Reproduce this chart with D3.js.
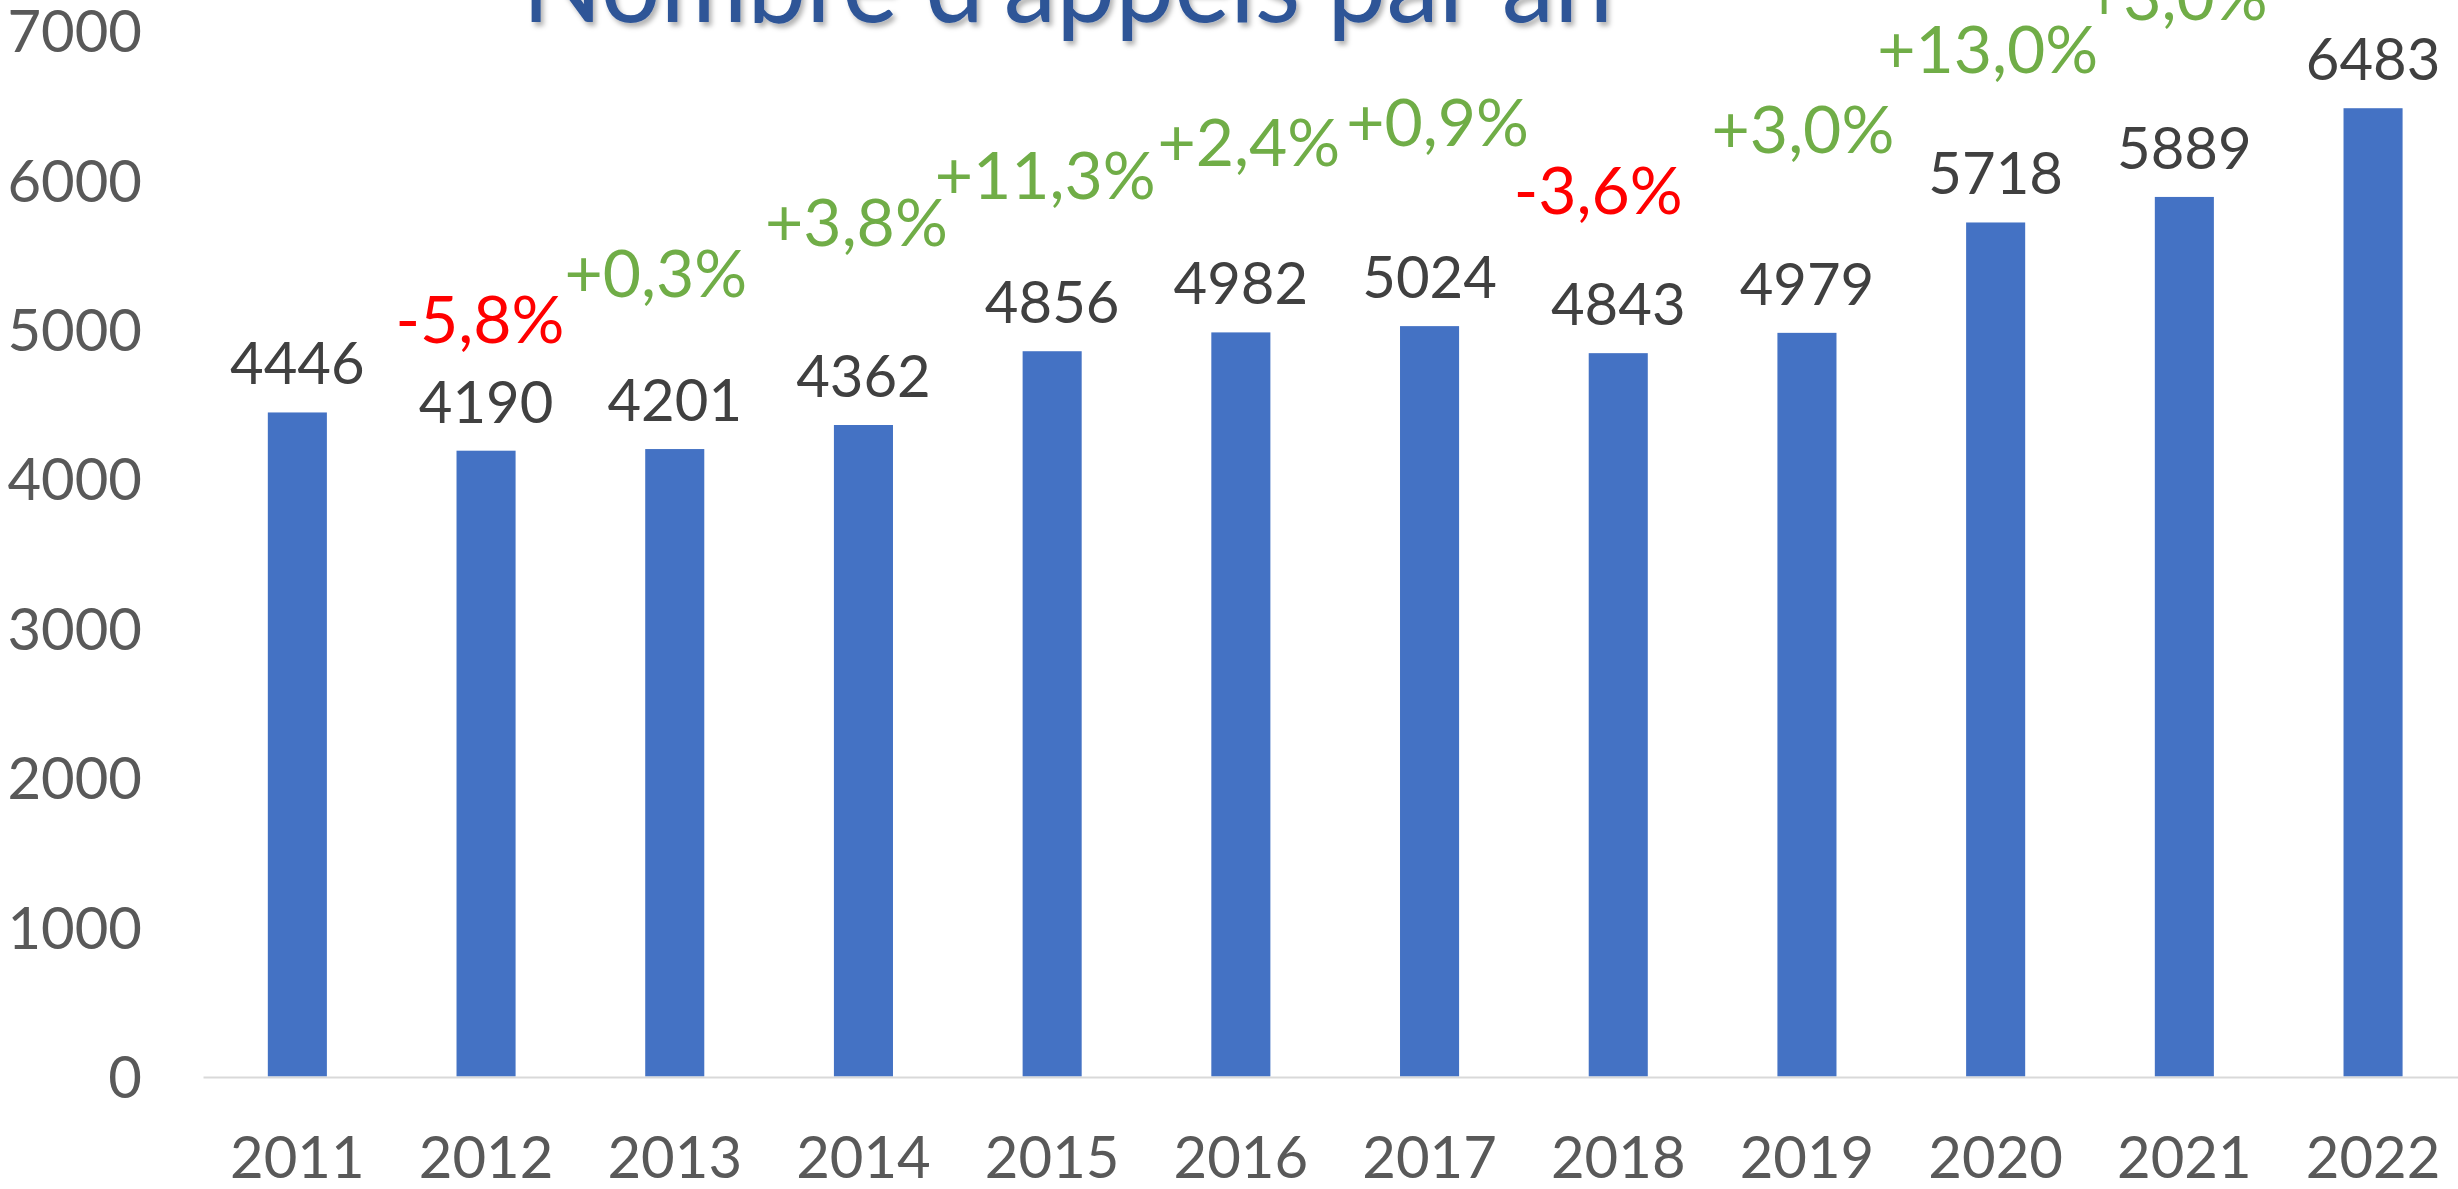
<!DOCTYPE html>
<html>
<head>
<meta charset="utf-8">
<script src="https://cdn.jsdelivr.net/npm/d3@7"></script>
<style>
  html, body { margin: 0; padding: 0; background: #ffffff; }
  svg { display: block; }
  text { font-family: Lato, "Open Sans", "Noto Sans", sans-serif; }
</style>
</head>
<body>
<svg id="chart" width="2458" height="1189"></svg>
<script>
// Annual call counts
const years = ["2011","2012","2013","2014","2015","2016","2017","2018","2019","2020","2021","2022"];
const calls = [4446, 4190, 4201, 4362, 4856, 4982, 5024, 4843, 4979, 5718, 5889, 6483];

// Year-over-year change annotations (year they refer to, text as printed)
const changeYears = ["2012","2013","2014","2015","2016","2017","2018","2019","2020","2021"];
const changeLabels = ["-5,8%","+0,3%","+3,8%","+11,3%","+2,4%","+0,9%","-3,6%","+3,0%","+13,0%","+3,0%"];

// Value-axis ticks
const yTicks = [0, 1000, 2000, 3000, 4000, 5000, 6000, 7000];

const title = "Nombre d'appels par an";

// Placement of the change annotations: baseline level in axis units, horizontal nudge in px
const changeLevel = [4911, 5219, 5560, 5875, 6096, 6230, 5774, 6183, 6719, 7074];
const changeNudge = [-6, -19, -7, -7, 8, 8, -20, -4, -8, -8];

const svg = d3.select("#chart");

const x = d3.scaleBand()
  .domain(years)
  .range([203, 203 + 12 * 188.7])
  .paddingInner(0.687)
  .paddingOuter(0.3435);

const y = d3.scaleLinear()
  .domain([0, 7000])
  .range([1076.5, 31]);

// Title with soft drop shadow
const defs = svg.append("defs");
const f = defs.append("filter").attr("id", "shadow")
  .attr("x", "-5%").attr("y", "-20%").attr("width", "110%").attr("height", "150%");
f.append("feDropShadow")
  .attr("dx", 3).attr("dy", 4).attr("stdDeviation", 2.5)
  .attr("flood-color", "#000000").attr("flood-opacity", 0.3);

svg.append("text")
  .attr("x", 1067.5)
  .attr("y", 22)
  .attr("text-anchor", "middle")
  .attr("font-size", 110)
  .attr("fill", "#2F5597")
  .attr("textLength", 1091)
  .attr("lengthAdjust", "spacingAndGlyphs")
  .attr("filter", "url(#shadow)")
  .text(title);

// Value axis labels
const yAxis = svg.append("g")
  .attr("transform", "translate(142,0)")
  .call(d3.axisLeft(y).tickValues(yTicks).tickSize(0).tickPadding(0).tickFormat(d3.format("d")));
yAxis.select(".domain").remove();
yAxis.selectAll("text")
  .attr("font-family", "Lato, 'Open Sans', sans-serif")
  .attr("font-size", 58)
  .attr("fill", "#595959")
  .attr("dy", "0.36em");

// Bars
svg.append("g")
  .selectAll("rect")
  .data(years)
  .join("rect")
  .attr("x", d => x(d))
  .attr("width", x.bandwidth())
  .attr("y", (d, i) => y(calls[i]))
  .attr("height", (d, i) => y(0) - y(calls[i]))
  .attr("fill", "#4472C4");

// Category axis
const xAxis = svg.append("g")
  .attr("transform", `translate(0,${y(0) + 0.5})`)
  .call(d3.axisBottom(x).tickSize(0).tickSizeOuter(0).tickPadding(0));
xAxis.select(".domain")
  .attr("stroke", "#d9d9d9")
  .attr("stroke-width", 2);
xAxis.selectAll("text")
  .attr("font-family", "Lato, 'Open Sans', sans-serif")
  .attr("font-size", 58)
  .attr("fill", "#595959")
  .attr("y", 1178 - (y(0) + 0.5))
  .attr("dy", 0);

// Value labels above bars
svg.append("g")
  .selectAll("text")
  .data(years)
  .join("text")
  .attr("x", d => x(d) + x.bandwidth() / 2)
  .attr("y", (d, i) => y(calls[i]) - 28)
  .attr("text-anchor", "middle")
  .attr("font-size", 58)
  .attr("fill", "#404040")
  .text((d, i) => calls[i]);

// Year-over-year change labels
svg.append("g")
  .selectAll("text")
  .data(changeYears)
  .join("text")
  .attr("x", (d, i) => x(d) + x.bandwidth() / 2 + changeNudge[i])
  .attr("y", (d, i) => y(changeLevel[i]))
  .attr("text-anchor", "middle")
  .attr("font-size", 66)
  .attr("fill", (d, i) => changeLabels[i].startsWith("-") ? "#FF0000" : "#70AD47")
  .text((d, i) => changeLabels[i]);
</script>
</body>
</html>
